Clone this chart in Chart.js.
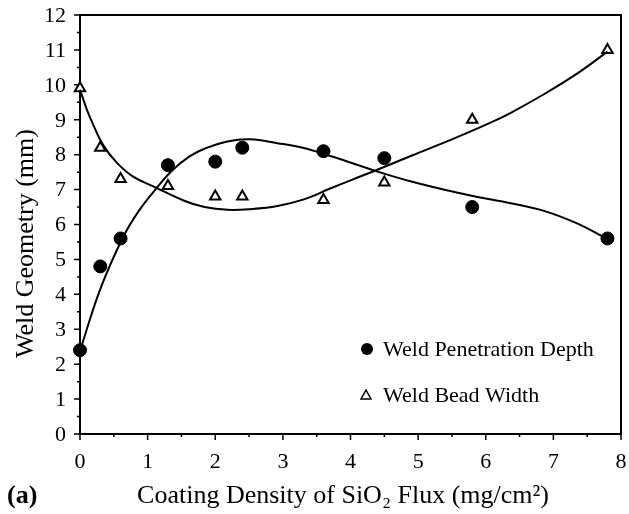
<!DOCTYPE html>
<html>
<head>
<meta charset="utf-8">
<script src="https://cdn.jsdelivr.net/npm/chart.js@4.4.0/dist/chart.umd.min.js"></script>
<style>
  html, body { margin: 0; padding: 0; background: #fff; }
  canvas { display: block; }
</style>
</head>
<body>
<canvas id="chart" width="629" height="514"></canvas>
<script>
// --- DATA ---
const coating = [0, 0.3, 0.6, 1.3, 2.0, 2.4, 3.6, 4.5, 5.8, 7.8];
const penetration = [2.4, 4.8, 5.6, 7.7, 7.8, 8.2, 8.1, 7.9, 6.5, 5.6];
const beadWidth = [9.9, 8.2, 7.3, 7.1, 6.8, 6.8, 6.7, 7.2, 9.0, 11.0];

// trend curves
const penetrationFitX = [0, 0.3, 0.64, 0.88, 1.14, 1.37, 1.62, 1.84, 2.18, 2.52, 2.92, 3.31, 3.7, 4.02, 4.36, 4.9, 5.49, 5.88, 6.37, 6.86, 7.35, 7.8];
const penetrationFit = [2.38, 4.15, 5.65, 6.42, 7.06, 7.56, 7.95, 8.17, 8.38, 8.44, 8.33, 8.19, 7.96, 7.76, 7.54, 7.23, 6.95, 6.79, 6.61, 6.39, 6.03, 5.58];
const beadWidthFitX = [0, 0.1, 0.2, 0.34, 0.54, 0.78, 1.13, 1.54, 1.84, 2.18, 2.52, 2.92, 3.31, 3.7, 4.02, 4.36, 4.9, 5.49, 6.03, 6.37, 6.86, 7.35, 7.8];
const beadWidthFit = [9.86, 9.3, 8.84, 8.28, 7.78, 7.38, 7.05, 6.68, 6.5, 6.42, 6.44, 6.53, 6.72, 7.03, 7.28, 7.54, 7.97, 8.43, 8.88, 9.2, 9.73, 10.32, 10.95];

const xTicks = [0, 1, 2, 3, 4, 5, 6, 7, 8];
const yTicks = [0, 1, 2, 3, 4, 5, 6, 7, 8, 9, 10, 11, 12];

const FONT = '"Liberation Serif", "Times New Roman", serif';

function toPts(xs, ys) { return xs.map((x, i) => ({ x: x, y: ys[i] })); }

// --- FRAME, TICKS, TITLES, LEGEND ---
const framePlugin = {
    id: 'frame',
    beforeDatasetsDraw(chart) {
        const { ctx, chartArea: a, scales: { x, y } } = chart;
        ctx.save();
        ctx.strokeStyle = '#000';
        ctx.lineWidth = 2;
        ctx.strokeRect(a.left, a.top, a.right - a.left, a.bottom - a.top);

        ctx.lineWidth = 1.5;
        ctx.beginPath();
        yTicks.forEach(v => {
            let py = y.getPixelForValue(v);
            ctx.moveTo(a.left, py); ctx.lineTo(a.left - 6, py);
            if (v < yTicks[yTicks.length - 1]) {
                py = y.getPixelForValue(v + 0.5);
                ctx.moveTo(a.left, py); ctx.lineTo(a.left - 3, py);
            }
        });
        xTicks.forEach(v => {
            let px = x.getPixelForValue(v);
            ctx.moveTo(px, a.bottom); ctx.lineTo(px, a.bottom + 6);
            if (v < xTicks[xTicks.length - 1]) {
                px = x.getPixelForValue(v + 0.5);
                ctx.moveTo(px, a.bottom); ctx.lineTo(px, a.bottom + 3);
            }
        });
        ctx.stroke();
        ctx.restore();
    },
    afterDraw(chart) {
        const { ctx, chartArea: a, scales: { x, y } } = chart;
        ctx.save();
        ctx.fillStyle = '#000';
        ctx.font = '22px ' + FONT;

        // tick labels
        ctx.textAlign = 'right'; ctx.textBaseline = 'middle';
        yTicks.forEach(v => ctx.fillText(String(v), a.left - 14, y.getPixelForValue(v) + 1));
        ctx.textAlign = 'center'; ctx.textBaseline = 'top';
        xTicks.forEach(v => ctx.fillText(String(v), x.getPixelForValue(v), a.bottom + 17));

        // axis titles
        ctx.font = '26px ' + FONT;
        ctx.textBaseline = 'alphabetic';
        ctx.fillText('Coating Density of SiO\u2082 Flux (mg/cm\u00B2)', 343, 503);
        ctx.save();
        ctx.translate(33, (a.top + a.bottom) / 2 + 19);
        ctx.rotate(-Math.PI / 2);
        ctx.fillText('Weld Geometry (mm)', 0, 0);
        ctx.restore();

        ctx.font = 'bold 26px ' + FONT;
        ctx.textAlign = 'left';
        ctx.fillText('(a)', 7, 503);

        // legend
        const ds = chart.data.datasets;
        ctx.font = '22px ' + FONT;
        ctx.beginPath();
        ctx.arc(367, 349, 6, 0, Math.PI * 2);
        ctx.fill();
        ctx.fillText(ds[2].label, 383, 356);

        ctx.beginPath();
        ctx.moveTo(366, 390); ctx.lineTo(371, 399); ctx.lineTo(361, 399); ctx.closePath();
        ctx.lineWidth = 1.5; ctx.strokeStyle = '#000';
        ctx.stroke();
        ctx.fillText(ds[3].label, 383, 402);
        ctx.restore();
    }
};

// --- CHART ---
new Chart(document.getElementById('chart'), {
    type: 'scatter',
    data: {
        datasets: [
            {
                label: 'Penetration fit',
                data: toPts(penetrationFitX, penetrationFit),
                showLine: true, borderColor: '#000', borderWidth: 2,
                pointRadius: 0, tension: 0.4, clip: false
            },
            {
                label: 'Width fit',
                data: toPts(beadWidthFitX, beadWidthFit),
                showLine: true, borderColor: '#000', borderWidth: 2,
                pointRadius: 0, tension: 0.4, clip: false
            },
            {
                label: 'Weld Penetration Depth',
                data: toPts(coating, penetration),
                pointStyle: 'circle', pointRadius: 6.5,
                backgroundColor: '#000', borderColor: '#000', borderWidth: 1, clip: false
            },
            {
                label: 'Weld Bead Width',
                data: toPts(coating, beadWidth),
                pointStyle: 'triangle', pointRadius: 6,
                backgroundColor: '#fff', borderColor: '#000', borderWidth: 2, clip: false
            }
        ]
    },
    options: {
        responsive: false,
        animation: false,
        layout: { padding: { left: 80, right: 5, top: 15, bottom: 80 } },
        plugins: { legend: { display: false }, tooltip: { enabled: false } },
        scales: {
            x: { type: 'linear', min: 0, max: 8, display: false },
            y: { type: 'linear', min: 0, max: 12, display: false }
        }
    },
    plugins: [framePlugin]
});
</script>
</body>
</html>
